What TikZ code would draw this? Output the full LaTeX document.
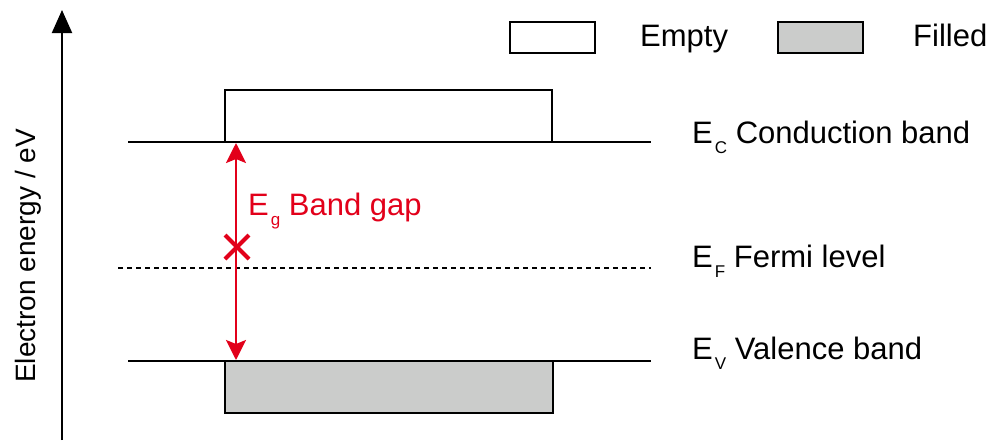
\documentclass[tikz,border=0pt]{standalone}
\usepackage{fontspec}
\setmainfont{Liberation Sans}
\usetikzlibrary{arrows.meta}
\definecolor{gapred}{RGB}{226,0,26}
\definecolor{fillgray}{RGB}{203,204,203}
\newcommand{\lowsub}[1]{\kern2pt\raisebox{-10pt}{\fontsize{17}{17}\selectfont #1}}
\begin{document}
\begin{tikzpicture}[x=1pt,y=-1pt,
  band/.style={line width=2pt},
  bandbox/.style={draw, line width=2pt},
  lbl/.style={anchor=base west, inner sep=0pt, font=\fontsize{31}{31}\selectfont},
  axlbl/.style={anchor=base west, inner sep=0pt, rotate=90, font=\fontsize{28}{28}\selectfont},
  gaparrow/.style={gapred, line width=2.5pt, {Stealth[length=20pt,width=20pt,inset=4pt]}-{Stealth[length=20pt,width=20pt,inset=4pt]}},
  crossline/.style={gapred, line width=4pt}
]
\useasboundingbox (0,0) rectangle (991,440);
% axis
\coordinate (ax0) at (62,440);
\coordinate (ax1) at (62,10);
\draw[line width=2pt, -{Triangle[length=23pt,width=20pt]}] (ax0) -- (ax1);
\node[axlbl] (axl) at (35,383) {Electron energy / eV};
% legend
\draw[bandbox, fill=white] (510,22) rectangle (595,53);
\node[lbl] (lempty) at (640,46) {Empty};
\draw[bandbox, fill=fillgray] (778,22) rectangle (863,53);
\node[lbl] (lfilled) at (913,46) {Filled};
% bands
\draw[bandbox, fill=white] (225,90) rectangle (552,142);
\draw[bandbox, fill=fillgray] (225,361) rectangle (553,413);
\coordinate (c0) at (128,142);
\coordinate (c1) at (651,142);
\draw[band] (c0) -- (c1);
\coordinate (v0) at (128,361);
\coordinate (v1) at (651,361);
\draw[band] (v0) -- (v1);
\coordinate (f0) at (118,268);
\coordinate (f1) at (651,268);
\draw[line width=2pt, dash pattern=on 5pt off 4pt] (f0) -- (f1);
% labels
\node[lbl] (lc) at (692,143) {E\lowsub{C} Conduction band};
\node[lbl] (lf) at (692,267) {E\lowsub{F} Fermi level};
\node[lbl] (lv) at (692,359) {E\lowsub{V} Valence band};
% gap
\coordinate (gtop) at (236,143);
\coordinate (gbot) at (236,360);
\draw[gaparrow] (gtop) -- (gbot);
\node[lbl, text=gapred] (lg) at (248,215) {E\lowsub{g} Band gap};
\coordinate (x0) at (237,247);
\draw[crossline] ([shift={(-12,-12)}]x0) -- ([shift={(12,12)}]x0);
\draw[crossline] ([shift={(-12,12)}]x0) -- ([shift={(12,-12)}]x0);
\end{tikzpicture}
\end{document}
